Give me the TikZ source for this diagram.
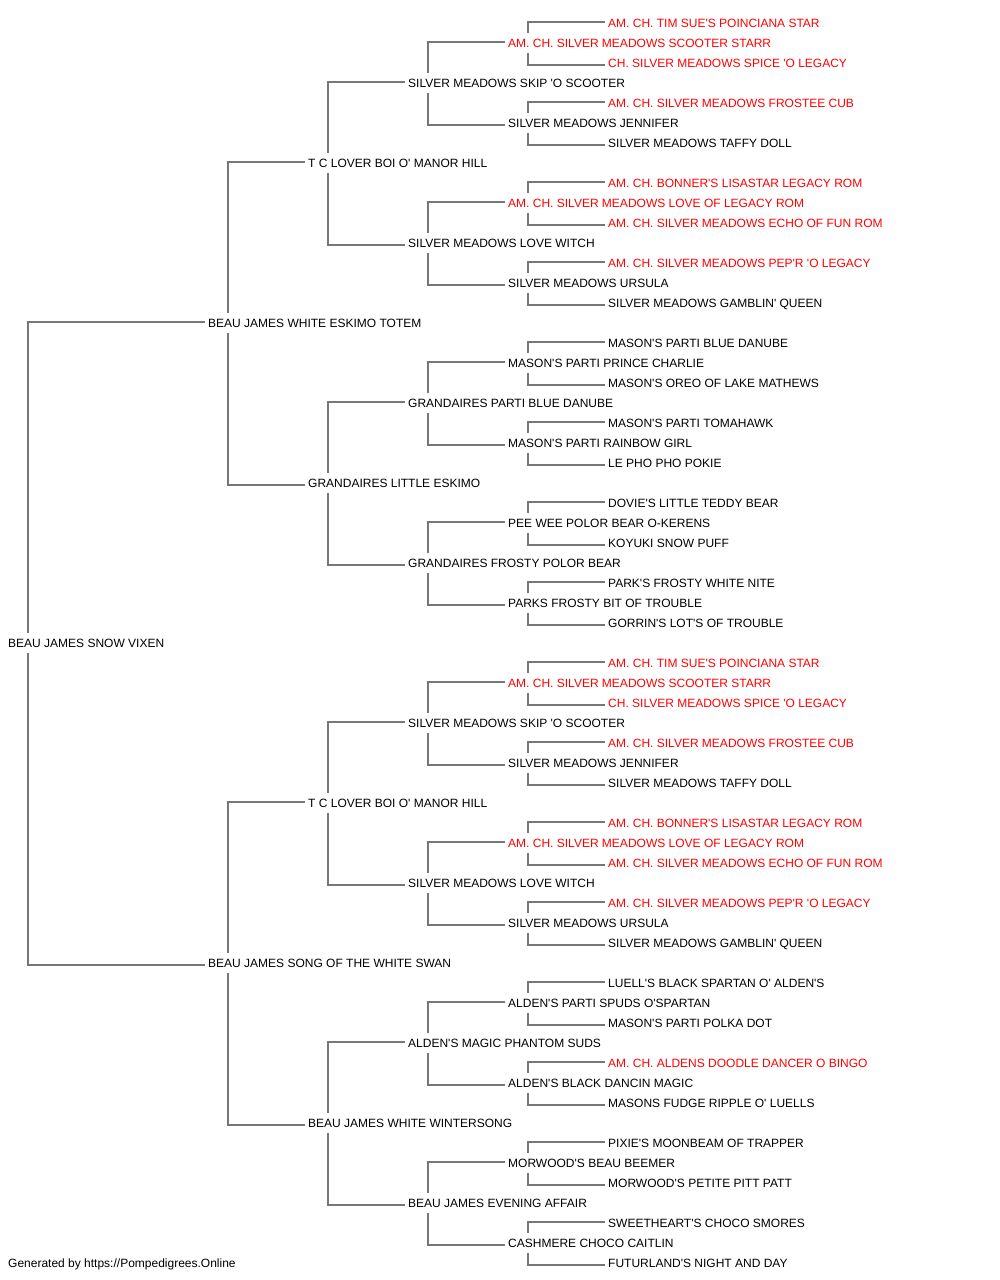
\documentclass[tikz,border=0pt]{standalone}
\usepackage{fontspec}
\newfontfamily\pf{Liberation Sans}
\usetikzlibrary{calc,backgrounds}
\definecolor{lnc}{HTML}{777777}
\definecolor{chred}{HTML}{FF0000}
\begin{document}
\begin{tikzpicture}[x=1pt,y=-1pt,
  pn/.style={anchor=west,inner xsep=0pt,inner ysep=0pt,text height=9pt,text depth=0pt,minimum height=20pt,fill=white,font=\pf\fontsize{12}{14}\selectfont,text=black},
  champ/.style={pn,text=chred},
  conn/.style={draw=lnc,line width=1.5pt}]
\useasboundingbox (0,0) rectangle (1000,1280);
% top half
\node[champ] (n1) at (608,23) {AM. CH. TIM SUE'S POINCIANA STAR};
\node[champ] (n2) at (508,43) {AM. CH. SILVER MEADOWS SCOOTER STARR};
\node[champ] (n3) at (608,63) {CH. SILVER MEADOWS SPICE 'O LEGACY};
\node[pn] (n4) at (408,83) {SILVER MEADOWS SKIP 'O SCOOTER};
\node[champ] (n5) at (608,103) {AM. CH. SILVER MEADOWS FROSTEE CUB};
\node[pn] (n6) at (508,123) {SILVER MEADOWS JENNIFER};
\node[pn] (n7) at (608,143) {SILVER MEADOWS TAFFY DOLL};
\node[pn] (n8) at (308,163) {T C LOVER BOI O' MANOR HILL};
\node[champ] (n9) at (608,183) {AM. CH. BONNER'S LISASTAR LEGACY ROM};
\node[champ] (n10) at (508,203) {AM. CH. SILVER MEADOWS LOVE OF LEGACY ROM};
\node[champ] (n11) at (608,223) {AM. CH. SILVER MEADOWS ECHO OF FUN ROM};
\node[pn] (n12) at (408,243) {SILVER MEADOWS LOVE WITCH};
\node[champ] (n13) at (608,263) {AM. CH. SILVER MEADOWS PEP'R 'O LEGACY};
\node[pn] (n14) at (508,283) {SILVER MEADOWS URSULA};
\node[pn] (n15) at (608,303) {SILVER MEADOWS GAMBLIN' QUEEN};
\node[pn] (n16) at (208,323) {BEAU JAMES WHITE ESKIMO TOTEM};
\node[pn] (n17) at (608,343) {MASON'S PARTI BLUE DANUBE};
\node[pn] (n18) at (508,363) {MASON'S PARTI PRINCE CHARLIE};
\node[pn] (n19) at (608,383) {MASON'S OREO OF LAKE MATHEWS};
\node[pn] (n20) at (408,403) {GRANDAIRES PARTI BLUE DANUBE};
\node[pn] (n21) at (608,423) {MASON'S PARTI TOMAHAWK};
\node[pn] (n22) at (508,443) {MASON'S PARTI RAINBOW GIRL};
\node[pn] (n23) at (608,463) {LE PHO PHO POKIE};
\node[pn] (n24) at (308,483) {GRANDAIRES LITTLE ESKIMO};
\node[pn] (n25) at (608,503) {DOVIE'S LITTLE TEDDY BEAR};
\node[pn] (n26) at (508,523) {PEE WEE POLOR BEAR O-KERENS};
\node[pn] (n27) at (608,543) {KOYUKI SNOW PUFF};
\node[pn] (n28) at (408,563) {GRANDAIRES FROSTY POLOR BEAR};
\node[pn] (n29) at (608,583) {PARK'S FROSTY WHITE NITE};
\node[pn] (n30) at (508,603) {PARKS FROSTY BIT OF TROUBLE};
\node[pn] (n31) at (608,623) {GORRIN'S LOT'S OF TROUBLE};
\node[pn] (n32) at (8,643) {BEAU JAMES SNOW VIXEN};
% bottom half
\node[champ] (n33) at (608,663) {AM. CH. TIM SUE'S POINCIANA STAR};
\node[champ] (n34) at (508,683) {AM. CH. SILVER MEADOWS SCOOTER STARR};
\node[champ] (n35) at (608,703) {CH. SILVER MEADOWS SPICE 'O LEGACY};
\node[pn] (n36) at (408,723) {SILVER MEADOWS SKIP 'O SCOOTER};
\node[champ] (n37) at (608,743) {AM. CH. SILVER MEADOWS FROSTEE CUB};
\node[pn] (n38) at (508,763) {SILVER MEADOWS JENNIFER};
\node[pn] (n39) at (608,783) {SILVER MEADOWS TAFFY DOLL};
\node[pn] (n40) at (308,803) {T C LOVER BOI O' MANOR HILL};
\node[champ] (n41) at (608,823) {AM. CH. BONNER'S LISASTAR LEGACY ROM};
\node[champ] (n42) at (508,843) {AM. CH. SILVER MEADOWS LOVE OF LEGACY ROM};
\node[champ] (n43) at (608,863) {AM. CH. SILVER MEADOWS ECHO OF FUN ROM};
\node[pn] (n44) at (408,883) {SILVER MEADOWS LOVE WITCH};
\node[champ] (n45) at (608,903) {AM. CH. SILVER MEADOWS PEP'R 'O LEGACY};
\node[pn] (n46) at (508,923) {SILVER MEADOWS URSULA};
\node[pn] (n47) at (608,943) {SILVER MEADOWS GAMBLIN' QUEEN};
\node[pn] (n48) at (208,963) {BEAU JAMES SONG OF THE WHITE SWAN};
\node[pn] (n49) at (608,983) {LUELL'S BLACK SPARTAN O' ALDEN'S};
\node[pn] (n50) at (508,1003) {ALDEN'S PARTI SPUDS O'SPARTAN};
\node[pn] (n51) at (608,1023) {MASON'S PARTI POLKA DOT};
\node[pn] (n52) at (408,1043) {ALDEN'S MAGIC PHANTOM SUDS};
\node[champ] (n53) at (608,1063) {AM. CH. ALDENS DOODLE DANCER O BINGO};
\node[pn] (n54) at (508,1083) {ALDEN'S BLACK DANCIN MAGIC};
\node[pn] (n55) at (608,1103) {MASONS FUDGE RIPPLE O' LUELLS};
\node[pn] (n56) at (308,1123) {BEAU JAMES WHITE WINTERSONG};
\node[pn] (n57) at (608,1143) {PIXIE'S MOONBEAM OF TRAPPER};
\node[pn] (n58) at (508,1163) {MORWOOD'S BEAU BEEMER};
\node[pn] (n59) at (608,1183) {MORWOOD'S PETITE PITT PATT};
\node[pn] (n60) at (408,1203) {BEAU JAMES EVENING AFFAIR};
\node[pn] (n61) at (608,1223) {SWEETHEART'S CHOCO SMORES};
\node[pn] (n62) at (508,1243) {CASHMERE CHOCO CAITLIN};
\node[pn] (n63) at (608,1263) {FUTURLAND'S NIGHT AND DAY};
\node[pn] (footer) at (8,1263) {Generated by https://Pompedigrees.Online};
% connectors
\begin{scope}[on background layer]
\fill[white] (0,0) rectangle (1000,1280);
\foreach \k/\h in {2/1,6/1,10/1,14/1,18/1,22/1,26/1,30/1,34/1,38/1,42/1,46/1,50/1,54/1,58/1,62/1,
  4/2,12/2,20/2,28/2,36/2,44/2,52/2,60/2,
  8/4,24/4,40/4,56/4,
  16/8,48/8,
  32/16}{
  \pgfmathtruncatemacro{\s}{\k-\h}
  \pgfmathtruncatemacro{\d}{\k+\h}
  \draw[conn] ($(n\s.west)+(-3,-1)$) -| ($(n\k.west)+(20,0)$) |- ($(n\d.west)+(-3,2)$);
}
\end{scope}
\end{tikzpicture}
\end{document}
